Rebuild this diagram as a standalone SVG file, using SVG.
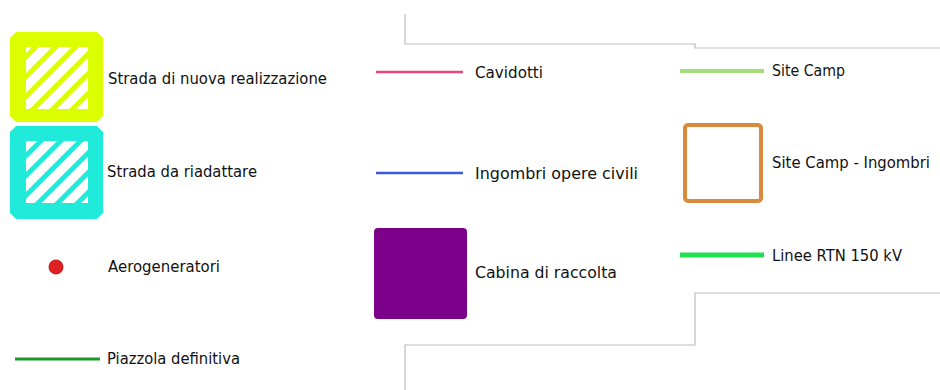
<svg xmlns="http://www.w3.org/2000/svg" width="940" height="390" viewBox="0 0 940 390">
<style>
text{font-family:"DejaVu Sans","Liberation Sans",sans-serif;font-size:15px;fill:#111111}
.frame{fill:none;stroke:#bdbdbd;stroke-width:1.2}
</style>
<defs>
<pattern id="hatchY" width="14" height="14" patternUnits="userSpaceOnUse" patternTransform="rotate(45)">
<rect width="14" height="14" fill="#ffffff"/><rect width="5" height="14" fill="#dcff00"/>
</pattern>
<pattern id="hatchC" width="14" height="14" patternUnits="userSpaceOnUse" patternTransform="rotate(45)">
<rect width="14" height="14" fill="#ffffff"/><rect width="5" height="14" fill="#20ebdb"/>
</pattern>
</defs>
<g id="frame">
<polyline class="frame" points="405,14 405,44 695,44 695,48 940,48"/>
<polyline class="frame" points="940,293 695,293 695,345 405,345 405,390"/>
</g>
<g id="strada-nuova">
<polygon points="16,32 97,32 103,38 103,116 97,122 16,122 10,116 10,38" fill="#dcff00"/>
<rect x="26" y="47" width="62" height="62" fill="url(#hatchY)"/>
<text x="108" y="84" textLength="219" lengthAdjust="spacingAndGlyphs">Strada di nuova realizzazione</text>
</g>
<g id="strada-riadattare">
<polygon points="16,126 97,126 103,132 103,213 97,219 16,219 10,213 10,132" fill="#20ebdb"/>
<rect x="26" y="141" width="62" height="62" fill="url(#hatchC)"/>
<text x="107" y="177" textLength="150" lengthAdjust="spacingAndGlyphs">Strada da riadattare</text>
</g>
<g id="aerogeneratori">
<circle cx="56" cy="267" r="7" fill="#e0201e" stroke="#b81818" stroke-width="1"/>
<text x="108" y="272" textLength="112" lengthAdjust="spacingAndGlyphs">Aerogeneratori</text>
</g>
<g id="piazzola">
<line x1="15" y1="359" x2="100" y2="359" stroke="#1a9a2a" stroke-width="3"/>
<text x="107" y="364" textLength="133" lengthAdjust="spacingAndGlyphs">Piazzola definitiva</text>
</g>
<g id="cavidotti">
<line x1="376" y1="72" x2="463" y2="72" stroke="#e8457f" stroke-width="2.5"/>
<text x="475" y="78" textLength="68" lengthAdjust="spacingAndGlyphs">Cavidotti</text>
</g>
<g id="ingombri">
<line x1="376" y1="173" x2="463" y2="173" stroke="#3a5ad8" stroke-width="2.5"/>
<text x="475" y="179" textLength="163" lengthAdjust="spacingAndGlyphs">Ingombri opere civili</text>
</g>
<g id="cabina">
<rect x="374" y="228" width="93" height="91" rx="4" fill="#7b008a"/>
<text x="475" y="278" textLength="142" lengthAdjust="spacingAndGlyphs">Cabina di raccolta</text>
</g>
<g id="site-camp">
<line x1="680" y1="71" x2="764" y2="71" stroke="#a5de7c" stroke-width="4"/>
<text x="772" y="76" textLength="73" lengthAdjust="spacingAndGlyphs">Site Camp</text>
</g>
<g id="site-camp-ingombri">
<rect x="685" y="125" width="76" height="76" rx="3" fill="none" stroke="#d98a3c" stroke-width="4"/>
<text x="772" y="168" textLength="158" lengthAdjust="spacingAndGlyphs">Site Camp - Ingombri</text>
</g>
<g id="linee-rtn">
<line x1="680" y1="255" x2="764" y2="255" stroke="#22e052" stroke-width="5"/>
<text x="772" y="261" textLength="130" lengthAdjust="spacingAndGlyphs">Linee RTN 150 kV</text>
</g>
</svg>
